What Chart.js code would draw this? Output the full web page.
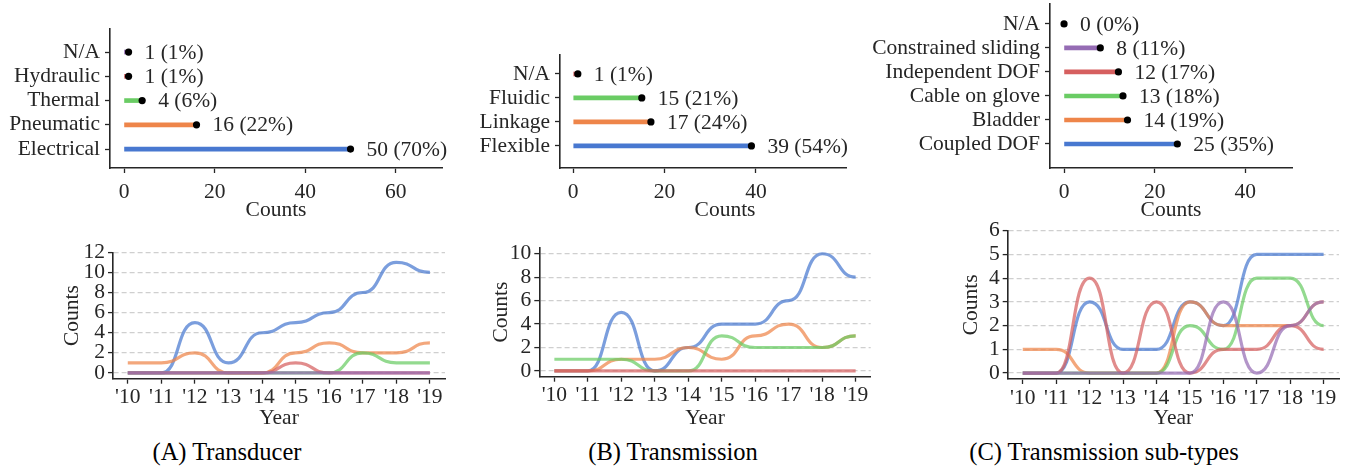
<!DOCTYPE html>
<html>
<head>
<meta charset="utf-8">
<script src="https://cdn.jsdelivr.net/npm/chart.js@4.4.1/dist/chart.umd.min.js"></script>
<style>
  body { margin: 0; background: #fff; width: 1348px; height: 468px; overflow: hidden; position: relative;
         font-family: "Liberation Serif", "Times New Roman", serif; }
  canvas { position: absolute; }
  .cap { position: absolute; width: 400px; text-align: center; font-size: 24.5px; line-height: 28px; color: #000; }
</style>
</head>
<body>
<canvas id="topA" width="460" height="223" style="left:0;top:0"></canvas>
<canvas id="topB" width="420" height="223" style="left:440px;top:0"></canvas>
<canvas id="topC" width="508" height="223" style="left:840px;top:0"></canvas>
<canvas id="lineA" width="401" height="206" style="left:59px;top:225px"></canvas>
<canvas id="lineB" width="392" height="206" style="left:488px;top:225px"></canvas>
<canvas id="lineC" width="390" height="221" style="left:958px;top:210px"></canvas>
<div class="cap" style="left:27px;top:438px">(A) Transducer</div>
<div class="cap" style="left:473px;top:438px">(B) Transmission</div>
<div class="cap" style="left:904px;top:438px">(C) Transmission sub-types</div>
<script>
// data
const years = [2010, 2011, 2012, 2013, 2014, 2015, 2016, 2017, 2018, 2019];

// (A) transducer
const transducerNames = ["Electrical", "Pneumatic", "Thermal", "Hydraulic", "N/A"];
const transducerCounts = [50, 16, 4, 1, 1];
const transducerPct = ["70%", "22%", "6%", "1%", "1%"];
const electricalByYear = [0, 0, 5, 1, 4, 5, 6, 8, 11, 10];
const pneumaticByYear = [1, 1, 2, 0, 0, 2, 3, 2, 2, 3];
const thermalByYear = [0, 0, 0, 0, 0, 0, 0, 2, 1, 1];
const hydraulicByYear = [0, 0, 0, 0, 0, 1, 0, 0, 0, 0];
const transducerNAByYear = [0, 0, 0, 0, 0, 0, 0, 0, 0, 0];

// (B) transmission
const transmissionNames = ["Flexible", "Linkage", "Fluidic", "N/A"];
const transmissionCounts = [39, 17, 15, 1];
const transmissionPct = ["54%", "24%", "21%", "1%"];
const flexibleByYear = [0, 0, 5, 0, 2, 4, 4, 6, 10, 8];
const linkageByYear = [0, 0, 1, 1, 2, 1, 3, 4, 2, 3];
const fluidicByYear = [1, 1, 1, 0, 0, 3, 2, 2, 2, 3];
const transmissionNAByYear = [0, 0, 0, 0, 0, 0, 0, 0, 0, 0];

// (C) transmission sub-types
const subtypeNames = ["Coupled DOF", "Bladder", "Cable on glove", "Independent DOF", "Constrained sliding", "N/A"];
const subtypeCounts = [25, 14, 13, 12, 8, 0];
const subtypePct = ["35%", "19%", "18%", "17%", "11%", "0%"];
const coupledByYear = [0, 0, 3, 1, 1, 3, 2, 5, 5, 5];
const bladderByYear = [1, 1, 0, 0, 0, 3, 2, 2, 2, 3];
const cableByYear = [0, 0, 0, 0, 0, 2, 1, 4, 4, 2];
const independentByYear = [0, 0, 4, 0, 3, 0, 1, 1, 2, 1];
const slidingByYear = [0, 0, 0, 0, 0, 0, 3, 0, 2, 3];

// seaborn "muted"
const BLUE = "#4878d0", ORANGE = "#ee854a", GREEN = "#6acc64", RED = "#d65f5f", PURPLE = "#956cb4", BROWN = "#8c613c";
const INK = "#262626";
const FONT = { family: '"Liberation Serif", "Times New Roman", serif', size: 21.5, lineHeight: 1.2 };

Chart.defaults.font = FONT;
Chart.defaults.color = INK;

const fade = (hex, a) => {
  const n = parseInt(hex.slice(1), 16);
  return `rgba(${n >> 16}, ${(n >> 8) & 255}, ${n & 255}, ${a})`;
};

// the (B) "Counts" label sits a bit right of the axis centre in the original
const shiftTitle = (s, dx) => {
  if (!dx) return;
  const base = Object.getPrototypeOf(s).drawTitle;
  s.drawTitle = function () {
    this.left += dx; this.right += dx;
    base.call(this);
    this.left -= dx; this.right -= dx;
  };
};

// black dot + "n (p%)" at the end of every lollipop
const lollipopTips = {
  id: "lollipopTips",
  afterDatasetsDraw(chart, args, opts) {
    const ctx = chart.ctx;
    ctx.save();
    chart.getDatasetMeta(0).data.forEach((bar, i) => {
      ctx.beginPath();
      ctx.arc(bar.x, bar.y, 3.6, 0, Math.PI * 2);
      ctx.fillStyle = "#000";
      ctx.fill();
      ctx.font = `${FONT.size}px ${FONT.family}`;
      ctx.fillStyle = INK;
      ctx.textBaseline = "middle";
      ctx.fillText(opts.labels[i], bar.x + 16, bar.y + 1);
    });
    ctx.restore();
  },
};

// smooth curves that go flat at each yearly value
const flatKnots = {
  id: "flatKnots",
  beforeDatasetDraw(chart, args) {
    const line = args.meta.dataset;
    const pts = args.meta.data;
    if (!line || !pts.length) return;
    line.updateControlPoints(chart.chartArea, "x");
    const k = 0.55;
    pts.forEach((p, i) => {
      const prev = pts[i - 1], next = pts[i + 1];
      p.cp1x = prev ? p.x - (p.x - prev.x) * k : p.x;
      p.cp1y = p.y;
      p.cp2x = next ? p.x + (next.x - p.x) * k : p.x;
      p.cp2y = p.y;
    });
    line._path = undefined;
  },
};

function lollipop(id, names, counts, pct, colors, xr, xTicks, yr, box) {
  new Chart(document.getElementById(id), {
    type: "bar",
    data: {
      datasets: [{
        data: counts.map((c, i) => ({ x: c, y: i })),
        backgroundColor: colors,
        borderWidth: 0,
        barThickness: 4,
      }],
    },
    options: {
      indexAxis: "y",
      responsive: false,
      animation: false,
      layout: { padding: { top: box.top, right: box.right, left: 0, bottom: 0 } },
      plugins: {
        legend: { display: false },
        tooltip: { enabled: false },
        lollipopTips: { labels: counts.map((c, i) => `${c} (${pct[i]})`) },
      },
      scales: {
        x: {
          type: "linear", min: xr[0], max: xr[1], offset: false,
          afterBuildTicks: (s) => { s.ticks = xTicks.map((v) => ({ value: v })); },
          grid: { offset: false, drawOnChartArea: false, tickLength: 5, tickColor: INK, tickWidth: 1.3 },
          border: { color: INK, width: 1.6 },
          ticks: { padding: 6, maxRotation: 0, autoSkip: false, color: INK },
          title: { display: true, text: "Counts", color: INK, padding: 0 },
          afterFit: (s) => {
            s.height = box.xh; s.paddingLeft = 0; s.paddingRight = 0;
            shiftTitle(s, box.titleDx);
          },
        },
        y: {
          type: "linear", min: yr[0], max: yr[1], offset: false,
          afterBuildTicks: (s) => { s.ticks = names.map((n, i) => ({ value: i })); },
          grid: { offset: false, drawOnChartArea: false, tickLength: 5, tickColor: INK, tickWidth: 1.3 },
          border: { color: INK, width: 1.6 },
          ticks: { padding: 5, autoSkip: false, color: INK, callback: (v) => names[v] },
          afterFit: (s) => { s.width = box.yw; s.paddingTop = 0; s.paddingBottom = 0; },
        },
      },
    },
    plugins: [lollipopTips],
  });
}

function trend(id, series, colors, yr, yTicks, xr, box) {
  new Chart(document.getElementById(id), {
    type: "line",
    data: {
      datasets: series.map((vals, i) => ({
        data: years.map((yv, j) => ({ x: yv, y: vals[j] })),
        borderColor: fade(colors[i], 0.72),
        borderWidth: 3.2,
        pointRadius: 0,
        tension: 0.4,
        order: -i,
      })),
    },
    options: {
      responsive: false,
      animation: false,
      layout: { padding: { top: box.top, right: box.right, left: 0, bottom: 0 } },
      plugins: { legend: { display: false }, tooltip: { enabled: false } },
      scales: {
        x: {
          type: "linear", min: xr[0], max: xr[1],
          afterBuildTicks: (s) => { s.ticks = years.map((v) => ({ value: v })); },
          grid: { drawOnChartArea: false, tickLength: 5, tickColor: INK, tickWidth: 1.3 },
          border: { color: INK, width: 1.6 },
          ticks: { padding: 1, maxRotation: 0, autoSkip: false, color: INK, callback: (v) => "'" + String(v).slice(2) },
          title: { display: true, text: "Year", color: INK, padding: 0 },
          afterFit: (s) => { s.height = box.xh; s.paddingLeft = 0; s.paddingRight = 0; },
        },
        y: {
          type: "linear", min: yr[0], max: yr[1],
          afterBuildTicks: (s) => { s.ticks = yTicks.map((v) => ({ value: v })); },
          grid: { color: "#cfcfcf", lineWidth: 1.2, tickLength: 5, tickColor: INK, tickWidth: 1.3 },
          border: { color: INK, width: 1.6, dash: [5, 3] },
          ticks: { padding: 3, autoSkip: false, color: INK },
          title: { display: true, text: "Counts", color: INK, padding: 0 },
          afterFit: (s) => { s.width = box.yw; s.paddingTop = 0; s.paddingBottom = 0; },
        },
      },
    },
    plugins: [flatKnots],
  });
}

lollipop("topA", transducerNames, transducerCounts, transducerPct,
  [BLUE, ORANGE, GREEN, RED, PURPLE], [-3.1, 70.2], [0, 20, 40, 60], [-0.78, 4.95],
  { top: 29, right: 18, yw: 110, xh: 55 });
lollipop("topB", transmissionNames, transmissionCounts, transmissionPct,
  [BLUE, ORANGE, GREEN, RED], [-2.9, 59.7], [0, 20, 40], [-0.92, 3.79],
  { top: 55, right: 14, yw: 120, xh: 55, titleDx: 22 });
lollipop("topC", subtypeNames, subtypeCounts, subtypePct,
  [BLUE, ORANGE, GREEN, RED, PURPLE, BROWN], [-3.1, 50.3], [0, 20, 40], [-1.0, 5.83],
  { top: 4, right: 56, yw: 210, xh: 55 });

trend("lineA", [electricalByYear, pneumaticByYear, thermalByYear, hydraulicByYear, transducerNAByYear],
  [BLUE, ORANGE, GREEN, RED, PURPLE], [-0.57, 12], [0, 2, 4, 6, 8, 10, 12], [2009.56, 2019.45],
  { top: 27.3, right: 15, yw: 54, xh: 52.3 });
trend("lineB", [flexibleByYear, linkageByYear, fluidicByYear, transmissionNAByYear],
  [BLUE, ORANGE, GREEN, RED], [-0.49, 10.55], [0, 2, 4, 6, 8, 10], [2009.55, 2019.45],
  { top: 22.3, right: 9.3, yw: 51.3, xh: 54.3 });
trend("lineC", [coupledByYear, bladderByYear, cableByYear, independentByYear, slidingByYear],
  [BLUE, ORANGE, GREEN, RED, PURPLE], [-0.25, 6], [0, 1, 2, 3, 4, 5, 6], [2009.55, 2019.46],
  { top: 20.7, right: 9, yw: 49.7, xh: 52 });
</script>
</body>
</html>
